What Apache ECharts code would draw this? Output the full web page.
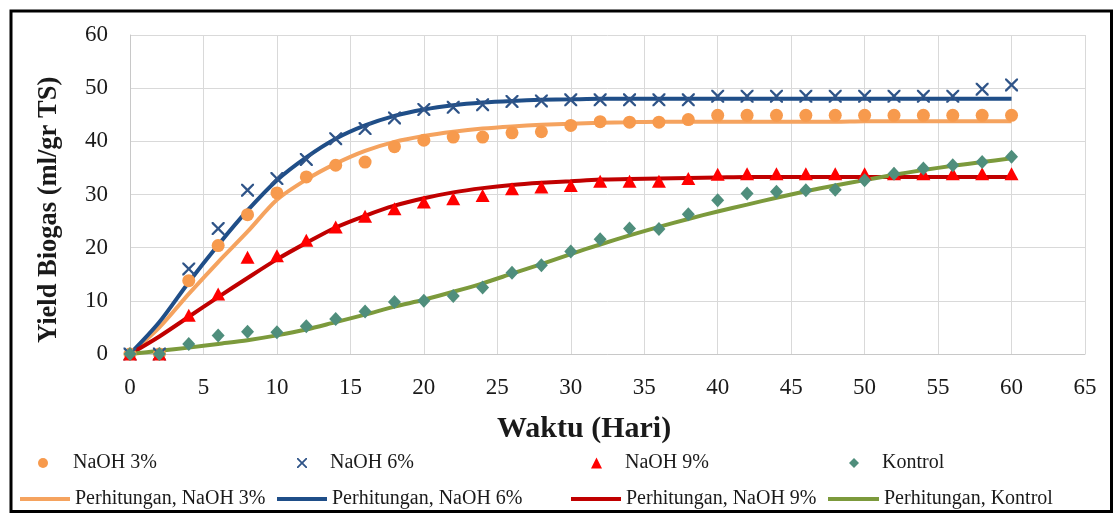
<!DOCTYPE html>
<html>
<head>
<meta charset="utf-8">
<script src="https://cdn.jsdelivr.net/npm/echarts@6/dist/echarts.min.js"></script>
<style>
html,body{margin:0;padding:0;background:#fff;}
#chart{width:1117px;height:516px;}
</style>
</head>
<body>
<div id="chart"></div>
<script>
// ---- data ----
const days = [0,2,4,6,8,10,12,14,16,18,20,22,24,26,28,30,32,34,36,38,40,42,44,46,48,50,52,54,56,58,60];
const naoh3 = [0,0,13.8,20.4,26.2,30.3,33.3,35.5,36.1,39.0,40.2,40.8,40.8,41.6,41.8,43.0,43.7,43.6,43.6,44.1,44.9,44.9,44.9,44.9,44.9,44.9,44.9,44.9,44.9,44.9,44.9];
const naoh6 = [0,0,16.0,23.6,30.8,33.0,36.6,40.5,42.4,44.4,46.0,46.4,46.9,47.5,47.6,47.8,47.8,47.8,47.8,47.8,48.5,48.5,48.5,48.5,48.5,48.5,48.5,48.5,48.5,49.8,50.6];
const naoh9 = [0,0,7.3,11.3,18.2,18.5,21.4,23.9,25.9,27.3,28.6,29.2,29.8,31.1,31.4,31.7,32.5,32.5,32.5,33.0,33.8,33.9,33.9,33.9,33.9,33.9,33.9,33.9,33.9,33.9,33.9];
const kontrol = [0,0,1.9,3.5,4.2,4.1,5.2,6.6,8.0,9.8,10.0,10.9,12.5,15.3,16.7,19.3,21.6,23.6,23.5,26.3,28.9,30.2,30.5,30.8,30.9,32.7,33.9,34.9,35.5,36.1,37.1];
const fit3 = [0,5,11.3,17.3,23,29,32.8,35.8,38.2,39.9,41,41.8,42.4,42.8,43.1,43.3,43.5,43.6,43.7,43.7,43.7,43.7,43.7,43.7,43.7,43.8,43.8,43.8,43.8,43.8,43.8];
const fit6 = [0,6,13.5,20.5,27,32.7,37,40.5,43,44.8,46,46.8,47.3,47.6,47.8,47.9,48,48,48,48,48,48,48,48,48,48,48,48,48,48,48];
const fit9 = [0,3.3,7,10.7,14.3,17.8,20.9,23.8,26,27.9,29.3,30.4,31.2,31.8,32.2,32.5,32.8,32.9,33,33.1,33.2,33.3,33.3,33.3,33.3,33.3,33.3,33.3,33.3,33.3,33.3];
const fitK = [0,0.6,1.2,1.9,2.6,3.5,4.6,6.0,7.4,8.9,10.2,11.7,13.3,15.1,16.9,18.8,20.6,22.3,23.9,25.4,26.8,28.1,29.4,30.6,31.7,32.7,33.7,34.6,35.4,36.1,36.8];
const xTicks = {min:0, max:65, interval:5};
const yTicks = {min:0, max:60, interval:10};
const names = ['NaOH 3%','NaOH 6%','NaOH 9%','Kontrol','Perhitungan, NaOH 3%','Perhitungan, NaOH 6%','Perhitungan, NaOH 9%','Perhitungan, Kontrol'];

const pair = arr => days.map((d,i)=>[d,arr[i]]);
const XSYM = 'path://M0,0 L2.5,0 L10,7.5 L17.5,0 L20,0 L20,2.5 L12.5,10 L20,17.5 L20,20 L17.5,20 L10,12.5 L2.5,20 L0,20 L0,17.5 L7.5,10 L0,2.5 Z';
const FONT = '"Liberation Serif","Times New Roman",serif';

const colors = {
  c3:'#F79A4D', c6:'#2F5488', c9:'#FF0000', cK:'#4F8E7C',
  l3:'#F5A35F', l6:'#1F4E88', l9:'#C00000', lK:'#7C9A3C'
};

const chart = echarts.init(document.getElementById('chart'), null, {renderer:'canvas'});

function lg(name, left, top, icon, w, h, padLeft) {
  return {
    data:[{name:name, icon:icon}],
    left:left, top:top, itemWidth:w, itemHeight:h, itemGap:0,
    selectedMode:false, padding:0,
    textStyle:{fontFamily:FONT, fontSize:20, color:'#1a1a1a', padding:[0,0,0,padLeft]}
  };
}

const option = {
  animation:false,
  backgroundColor:'#fff',
  grid:{left:130, right:32, top:35, bottom:162, containLabel:false},
  xAxis:{
    type:'value', min:xTicks.min, max:xTicks.max, interval:xTicks.interval,
    axisLine:{show:true, lineStyle:{color:'#c8c8c8', width:1}},
    axisTick:{show:false},
    axisLabel:{fontFamily:FONT, fontSize:23, color:'#1a1a1a', margin:22},
    splitLine:{show:true, lineStyle:{color:'#d9d9d9', width:1}}
  },
  yAxis:{
    type:'value', min:yTicks.min, max:yTicks.max, interval:yTicks.interval,
    axisLine:{show:true, lineStyle:{color:'#c8c8c8', width:1}},
    axisTick:{show:false},
    axisLabel:{fontFamily:FONT, fontSize:23, color:'#1a1a1a', margin:22},
    splitLine:{show:true, lineStyle:{color:'#d9d9d9', width:1}}
  },
  legend:[
    lg(names[0], 38, 453, 'circle', 10, 10, 20),
    lg(names[1], 297, 453, XSYM, 10, 10, 18),
    lg(names[2], 591, 453, 'triangle', 11, 11, 18),
    lg(names[3], 849, 453, 'diamond', 10, 10, 18),
    lg(names[4], 20, 489, 'rect', 50, 4, 0),
    lg(names[5], 277, 489, 'rect', 50, 4, 0),
    lg(names[6], 571, 489, 'rect', 50, 4, 0),
    lg(names[7], 828, 489, 'rect', 51, 4, 0)
  ],
  graphic:[
    {type:'rect', shape:{x:11, y:11, width:1100.5, height:500.5}, style:{fill:null, stroke:'#000', lineWidth:3}, silent:true, z:100},
    {type:'text', top:414, left:497, style:{text:'Waktu (Hari)', font:'bold 30px '+FONT, fill:'#1a1a1a'}},
    {type:'text', rotation:Math.PI/2, x:36, y:343, style:{text:'Yield Biogas (ml/gr TS)', font:'bold 26.5px '+FONT, fill:'#1a1a1a'}}
  ],
  series:[
    {name:names[4], type:'line', data:pair(fit3), smooth:0.3, symbol:'none', lineStyle:{color:colors.l3, width:4}, itemStyle:{color:colors.l3}, z:2},
    {name:names[5], type:'line', data:pair(fit6), smooth:0.3, symbol:'none', lineStyle:{color:colors.l6, width:4}, itemStyle:{color:colors.l6}, z:2},
    {name:names[6], type:'line', data:pair(fit9), smooth:0.3, symbol:'none', lineStyle:{color:colors.l9, width:4}, itemStyle:{color:colors.l9}, z:2},
    {name:names[7], type:'line', data:pair(fitK), smooth:0.3, symbol:'none', lineStyle:{color:colors.lK, width:4}, itemStyle:{color:colors.lK}, z:2},
    {name:names[0], type:'scatter', data:pair(naoh3), symbol:'circle', symbolSize:13, itemStyle:{color:colors.c3, opacity:1}, z:3},
    {name:names[1], type:'scatter', data:pair(naoh6), symbol:XSYM, symbolSize:13, itemStyle:{color:colors.c6, opacity:1}, z:3},
    {name:names[2], type:'scatter', data:pair(naoh9), symbol:'triangle', symbolSize:[14,13], itemStyle:{color:colors.c9, opacity:1}, z:3},
    {name:names[3], type:'scatter', data:pair(kontrol), symbol:'diamond', symbolSize:[13,14], itemStyle:{color:colors.cK, opacity:1}, z:3}
  ]
};
chart.setOption(option);
</script>
</body>
</html>
